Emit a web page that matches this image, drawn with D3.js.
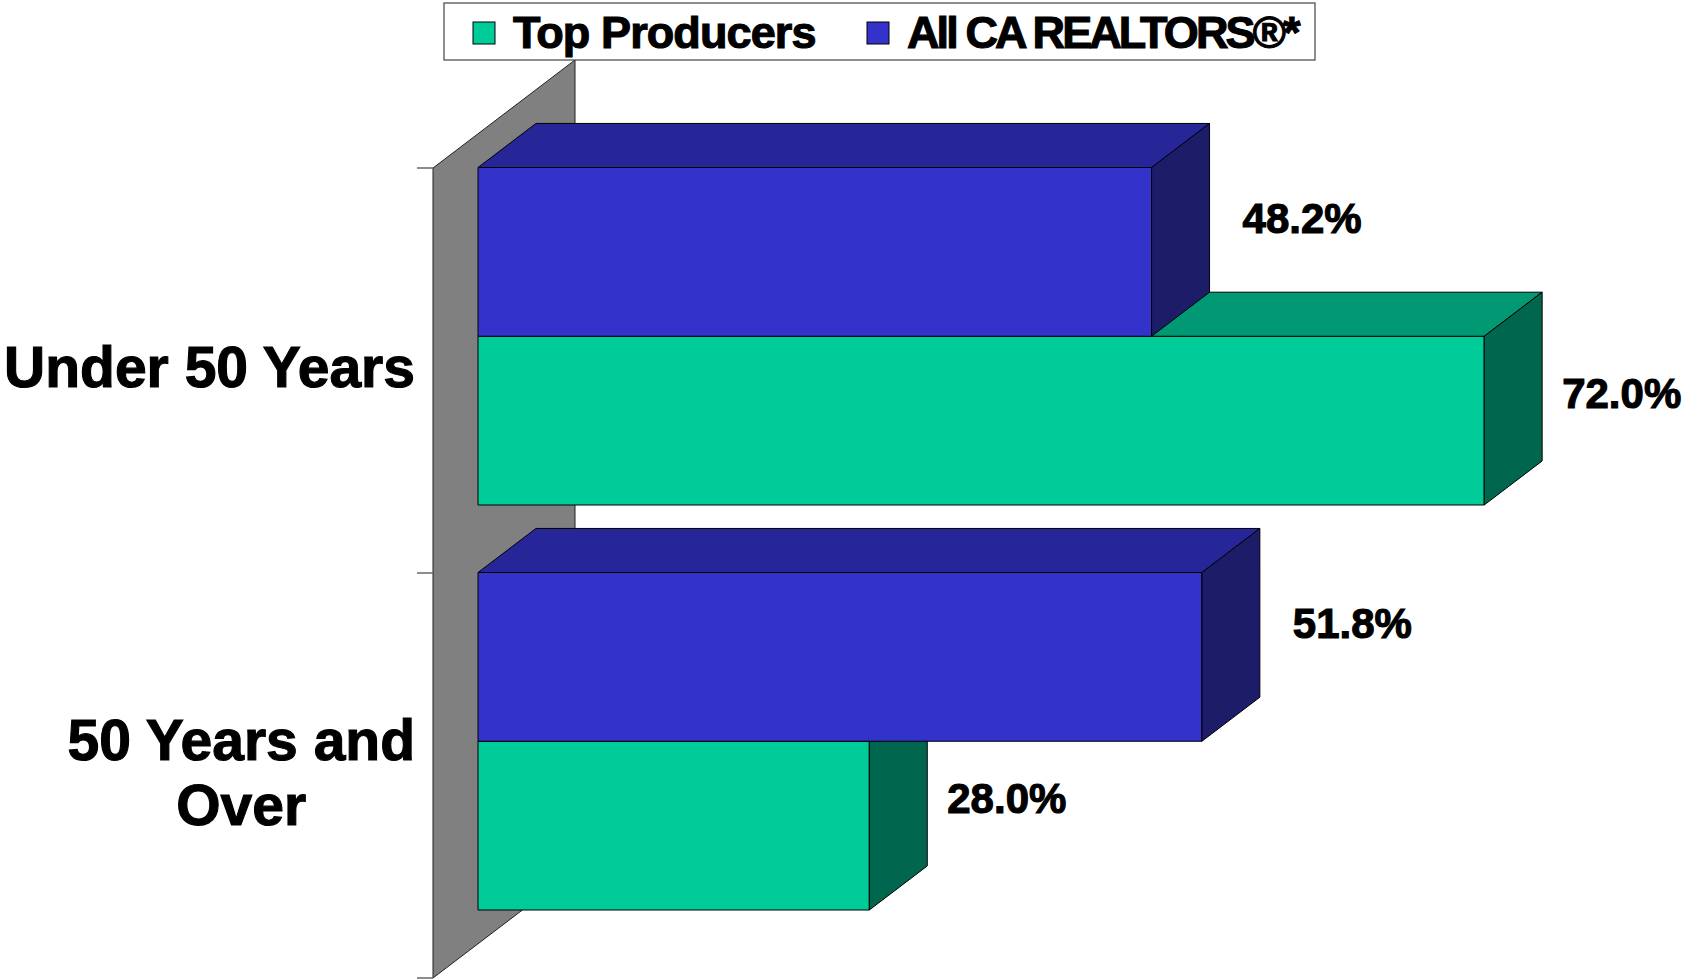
<!DOCTYPE html>
<html>
<head>
<meta charset="utf-8">
<script src="https://cdn.jsdelivr.net/npm/d3@7"></script>
<style>
  html, body { margin: 0; padding: 0; background: #fff; }
  svg { display: block; }
  text { font-family: "Liberation Sans", Arial, sans-serif; font-weight: bold; fill: #000; stroke: #000; stroke-width: 1.1px; }
</style>
</head>
<body>
<svg id="chart" width="1685" height="980"></svg>
<script>
// ---- data ----
const categories = ["Under 50 Years", "50 Years and Over"];
const seriesNames = ["Top Producers", "All CA REALTORS®*"];
const topProducers = [72.0, 28.0];
const allRealtors = [48.2, 51.8];
const valueLabels = [["72.0%", "28.0%"], ["48.2%", "51.8%"]];

// ---- styling ----
const faceColors = [
  { front: "#00CC99", top: "#009973", side: "#00664D" },
  { front: "#3333CC", top: "#262699", side: "#1C1C68" }
];
const labelOffset = [{ dx: 20, dy: -28 }, { dx: 33, dy: -34 }];
const legendSpacing = [-0.9, -2.9];

const W = 1685, H = 980;
const plot = { left: 433, top: 168, bottom: 978, width: 1118 };
const depth = { dx: 142, dy: 108 };   // projection of the full depth axis
const barDepth = [0.317, 0.725];      // front/back depth fraction of the bars

const svg = d3.select("#chart");

const x = d3.scaleLinear().domain([0, 80]).range([plot.left, plot.left + plot.width]);
const yCat = d3.scaleBand().domain(categories).range([plot.top, plot.bottom]);
// top-to-bottom order inside a category: All CA first, Top Producers below
const ySer = d3.scaleBand().domain([1, 0]).range([0, yCat.bandwidth()]).paddingOuter(0.2).paddingInner(0);

const proj = (px, py, z) => [px + z * depth.dx, py - z * depth.dy];
const pts = arr => arr.map(p => p.join(",")).join(" ");

// ---- side wall ----
svg.append("polygon")
  .attr("points", pts([
    proj(plot.left, plot.top, 0), proj(plot.left, plot.top, 1),
    proj(plot.left, plot.bottom, 1), proj(plot.left, plot.bottom, 0)
  ]))
  .attr("fill", "#808080").attr("stroke", "#222").attr("stroke-width", 1);

// category tick marks
const tickYs = categories.map(c => yCat(c)).concat([plot.bottom]);
svg.append("g").selectAll("line").data(tickYs).join("line")
  .attr("x1", plot.left - 16).attr("x2", plot.left)
  .attr("y1", d => d).attr("y2", d => d)
  .attr("stroke", "#666").attr("stroke-width", 1.5);

// ---- bars (lower ones first so upper bars overlap their top faces) ----
const seriesValues = [topProducers, allRealtors];
const bars = [];
for (let ci = categories.length - 1; ci >= 0; ci--) {
  for (const si of [0, 1]) {
    bars.push({ ci, si, v: seriesValues[si][ci], label: valueLabels[si][ci] });
  }
}

const z0 = barDepth[0], z1 = barDepth[1];
const gBars = svg.append("g");
bars.forEach(b => {
  const xa = x(0), xb = x(b.v);
  const ya = yCat(categories[b.ci]) + ySer(b.si);
  const yb = ya + ySer.bandwidth();
  const col = faceColors[b.si];
  const g = gBars.append("g");
  g.append("polygon")
    .attr("points", pts([proj(xa, ya, z0), proj(xb, ya, z0), proj(xb, yb, z0), proj(xa, yb, z0)]))
    .attr("fill", col.front).attr("stroke", "#000").attr("stroke-width", 1).attr("stroke-linejoin", "round");
  g.append("polygon")
    .attr("points", pts([proj(xa, ya, z0), proj(xb, ya, z0), proj(xb, ya, z1), proj(xa, ya, z1)]))
    .attr("fill", col.top).attr("stroke", "#000").attr("stroke-width", 1).attr("stroke-linejoin", "round");
  g.append("polygon")
    .attr("points", pts([proj(xb, ya, z0), proj(xb, yb, z0), proj(xb, yb, z1), proj(xb, ya, z1)]))
    .attr("fill", col.side).attr("stroke", "#000").attr("stroke-width", 1).attr("stroke-linejoin", "round");
  b.labelX = proj(xb, ya, z1)[0] + labelOffset[b.si].dx;
  b.labelY = proj(xb, (ya + yb) / 2, z0)[1] + labelOffset[b.si].dy;
});

// ---- value labels ----
svg.append("g").selectAll("text").data(bars).join("text")
  .attr("x", d => d.labelX)
  .attr("y", d => d.labelY)
  .attr("dy", "0.36em")
  .attr("font-size", 42)
  .text(d => d.label);

// ---- category labels (wrapped, centred on their widest line, right edge fixed) ----
const catLines = [["Under 50 Years"], ["50 Years and", "Over"]];
const catRight = 415, lineH = 65;
categories.forEach((c, i) => {
  const lines = catLines[i];
  const cy = yCat(c) + yCat.bandwidth() / 2 - 4;
  const g = svg.append("g");
  const texts = lines.map((ln, k) => g.append("text")
    .attr("font-size", 57)
    .attr("text-anchor", "middle")
    .attr("y", cy + (k - (lines.length - 1) / 2) * lineH)
    .attr("dy", "0.36em")
    .text(ln));
  const maxW = d3.max(texts, t => t.node().getComputedTextLength());
  texts.forEach(t => t.attr("x", catRight - maxW / 2));
});

// ---- legend ----
const legend = svg.append("g");
legend.append("rect")
  .attr("x", 444).attr("y", 3).attr("width", 871).attr("height", 57)
  .attr("fill", "#fff").attr("stroke", "#444").attr("stroke-width", 1.2);
const legendX = [473, 867];
seriesNames.forEach((name, i) => {
  legend.append("rect")
    .attr("x", legendX[i]).attr("y", 22).attr("width", 22).attr("height", 22)
    .attr("fill", faceColors[i].front).attr("stroke", "#000").attr("stroke-width", 1);
  legend.append("text")
    .attr("x", legendX[i] + 40).attr("y", 48)
    .attr("font-size", 45).attr("letter-spacing", legendSpacing[i])
    .text(name);
});
</script>
</body>
</html>
